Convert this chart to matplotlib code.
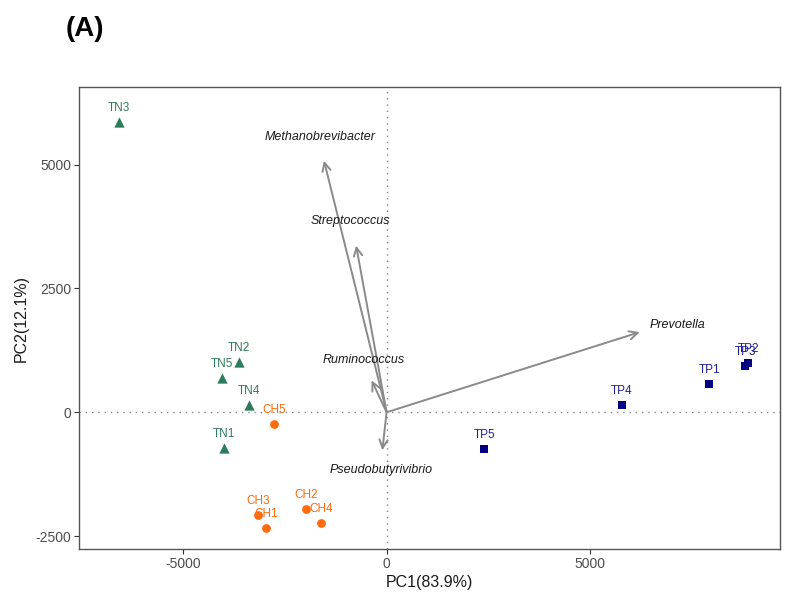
import matplotlib
matplotlib.use("Agg")
import matplotlib.pyplot as plt

plt.rcParams['font.family'] = ['Liberation Sans', 'DejaVu Sans']

# ---- data ----
tn_labels = ["TN1", "TN2", "TN3", "TN4", "TN5"]
tn_pc1 = [-3995, -3627, -6580, -3382, -4044]
tn_pc2 = [-726, 1008, 5867, 141, 685]

ch_labels = ["CH1", "CH2", "CH3", "CH4", "CH5"]
ch_pc1 = [-2966, -1985, -3162, -1618, -2770]
ch_pc2 = [-2339, -1956, -2077, -2238, -242]

tp_labels = ["TP1", "TP2", "TP3", "TP4", "TP5"]
tp_pc1 = [7941, 8897, 8824, 5784, 2402]
tp_pc2 = [565, 988, 927, 141, -746]

taxa = ["Methanobrevibacter", "Streptococcus", "Ruminococcus", "Pseudobutyrivibrio", "Prevotella"]
load_pc1 = [-1540, -750, -368, -105, 6225]
load_pc2 = [5081, 3367, 645, -766, 1619]

x_ticks = [-5000, 0, 5000]
y_ticks = [-2500, 0, 2500, 5000]

# ---- styles ----
tn_col = "#2E7B5C"
ch_col = "#FF6A0D"
tp_col = "#000080"
tp_txt = "#1F1F9A"
arrow_col = "#8A8A8A"
# label offsets (points) relative to arrow tips
taxa_off = [(-3, 17), (-4, 18), (-6, 15), (-1, -14), (27, 5)]

fig = plt.figure(figsize=(7.93, 5.98), dpi=100)
ax = fig.add_axes([79/793, 1-549.3/598, (780-79)/793, (549.3-87.3)/598])

ax.axhline(0, color="#888888", lw=1.0, ls=(0, (1, 3.5)), zorder=1)
ax.axvline(0, color="#888888", lw=1.0, ls=(0, (1, 3.5)), zorder=1)

for name, x, y, off in zip(taxa, load_pc1, load_pc2, taxa_off):
    ax.annotate("", xy=(x, y), xytext=(0, 0),
                arrowprops=dict(arrowstyle="->", color=arrow_col, lw=1.4,
                                mutation_scale=15, shrinkA=0, shrinkB=0),
                zorder=2)
    ax.annotate(name, xy=(x, y), xytext=off, textcoords="offset points",
                ha="center", va="center", style="italic", fontsize=9,
                color="#1a1a1a", zorder=3)

ax.scatter(tn_pc1, tn_pc2, marker="^", s=55, color=tn_col, zorder=4, linewidths=0)
ax.scatter(ch_pc1, ch_pc2, marker="o", s=40, color=ch_col, zorder=4, linewidths=0)
ax.scatter(tp_pc1, tp_pc2, marker="s", s=38, color=tp_col, zorder=4, linewidths=0)

for labs, xs, ys, c in [(tn_labels, tn_pc1, tn_pc2, tn_col),
                        (ch_labels, ch_pc1, ch_pc2, ch_col),
                        (tp_labels, tp_pc1, tp_pc2, tp_txt)]:
    for l, x, y in zip(labs, xs, ys):
        ax.annotate(l, xy=(x, y), xytext=(0, 10), textcoords="offset points",
                    ha="center", va="center", fontsize=8.5, color=c, zorder=5)

ax.set_xlim(-7565, 9675)
ax.set_ylim(-2767, 6563)
ax.set_xticks(x_ticks)
ax.set_yticks(y_ticks)
ax.set_xticklabels([str(v) for v in x_ticks])
ax.set_yticklabels([str(v) for v in y_ticks])
ax.tick_params(axis="both", length=3.5, width=0.8, color="#333333",
               labelsize=10, labelcolor="#4D4D4D", pad=2)
for s in ax.spines.values():
    s.set_color("#555555")
    s.set_linewidth(1.0)

ax.set_xlabel("PC1(83.9%)", fontsize=11.5, color="#1a1a1a", labelpad=3)
ax.set_ylabel("PC2(12.1%)", fontsize=11.5, color="#1a1a1a", labelpad=5)

fig.text(0.107, 0.952, "(A)", fontsize=20, fontweight="bold", ha="center", va="center")

fig.savefig("out.png", dpi=100)
